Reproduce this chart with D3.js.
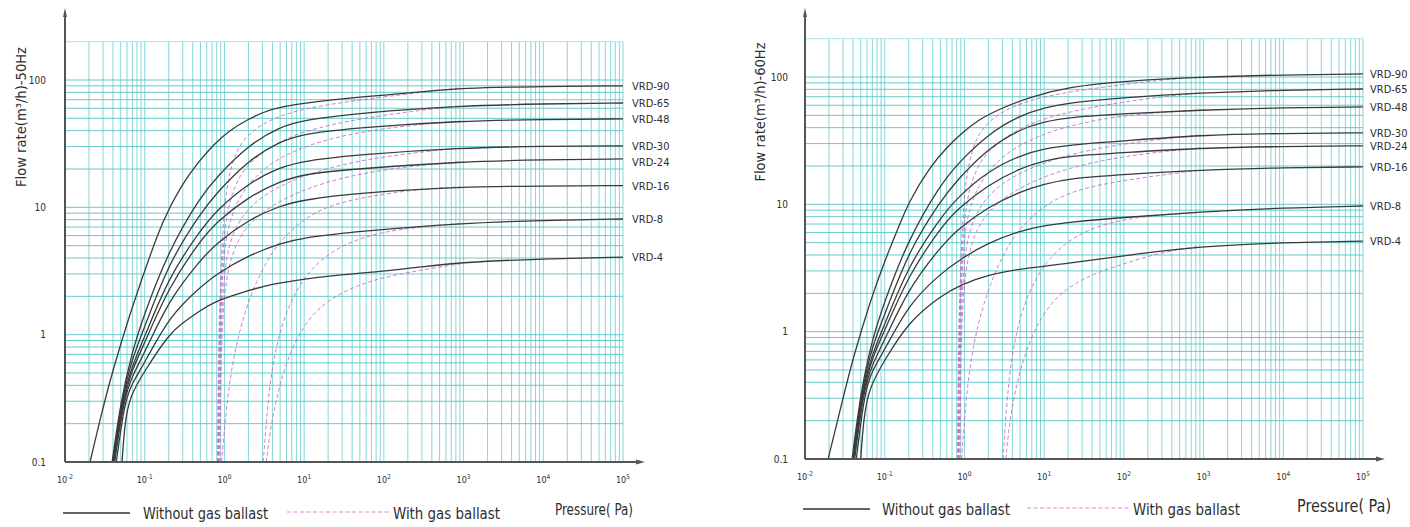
<!DOCTYPE html>
<html>
<head>
<meta charset="utf-8">
<title>VRD pumping speed curves</title>
<script src="https://cdn.jsdelivr.net/npm/d3@7"></script>
<style>
  body { margin: 0; background: #fff; }
  svg text { font-family: "Liberation Sans Narrow", "DejaVu Sans Condensed", "Roboto Condensed", "Liberation Sans", sans-serif; fill: #2e2e2e; }
</style>
</head>
<body>
<svg id="chart" width="1410" height="527"></svg>
<script>
// ---- data: [pressure Pa, flow m3/h] ----
const models = ["VRD-90", "VRD-65", "VRD-48", "VRD-30", "VRD-24", "VRD-16", "VRD-8", "VRD-4"];
const decades = [-2, -1, 0, 1, 2, 3, 4, 5];
const yTickValues = [0.1, 1, 10, 100];
const yTickLabels = ["0.1", "1", "10", "100"];
const legendLabels = ["Without gas ballast", "With gas ballast"];
const xTitle = "Pressure( Pa)";
const yTitles = ["Flow rate(m\u00B3/h)-50Hz", "Flow rate(m\u00B3/h)-60Hz"];

// 50Hz, without gas ballast
const solid50 = [
  [[0.0206,0.1],[0.03,0.27],[0.04,0.53],[0.0656,1.48],[0.107,3.6],[0.17,8.0],[0.28,14.5],[0.46,22.3],[0.72,30.9],[1.18,40.6],[1.93,48.6],[3.07,56],[5,61.5],[13,67.3],[51,73.6],[290,80.5],[916,86.7],[1e4,89],[1e5,90]],
  [[0.039,0.1],[0.05,0.3],[0.07,0.75],[0.1,1.48],[0.2,4.6],[0.5,12.1],[0.8,17.3],[2,30.9],[5,43],[10,48.6],[51,55.2],[916,62.7],[1e4,65],[1e5,66]],
  [[0.04,0.1],[0.051,0.3],[0.07,0.66],[0.1,1.15],[0.2,3.66],[0.5,9],[0.8,13],[2,23.5],[5,33],[10,38],[51,42.5],[916,47.7],[1e4,49],[1e5,49.5]],
  [[0.04,0.1],[0.052,0.3],[0.07,0.58],[0.1,0.96],[0.2,2.84],[0.5,6.6],[0.8,9.5],[2,15.5],[5,20.7],[10,23.2],[51,26],[916,29.3],[1e4,30.2],[1e5,30.4]],
  [[0.041,0.1],[0.053,0.3],[0.07,0.54],[0.1,0.86],[0.2,2.37],[0.5,5.5],[0.8,7.7],[2,12.1],[5,16],[10,18.3],[51,20.2],[916,22.8],[1e4,23.7],[1e5,24]],
  [[0.042,0.1],[0.054,0.3],[0.07,0.48],[0.1,0.72],[0.2,1.87],[0.5,3.86],[0.8,5.25],[2,8],[5,10.3],[10,11.5],[51,13],[916,14.5],[1e4,14.7],[1e5,14.8]],
  [[0.044,0.1],[0.056,0.3],[0.07,0.42],[0.1,0.6],[0.2,1.38],[0.5,2.37],[0.8,3.0],[2,4.2],[5,5.2],[10,5.8],[51,6.5],[916,7.5],[1e4,7.9],[1e5,8.1]],
  [[0.052,0.1],[0.056,0.2],[0.065,0.33],[0.1,0.52],[0.2,1.0],[0.28,1.2],[0.5,1.56],[0.8,1.85],[1.5,2.1],[3,2.4],[7,2.65],[28,2.95],[100,3.15],[290,3.4],[916,3.7],[1e4,3.95],[1e5,4.07]]
];

// 50Hz, with gas ballast
const gas50 = [
  [[0.82,0.1],[0.84,0.5],[0.86,1.2],[0.9,3],[0.95,6],[1.0,10],[1.1,16],[1.3,24],[1.6,32],[2.3,40.5],[4,50],[10,60],[50,70],[300,80],[916,86.7]],
  [[0.83,0.1],[0.85,0.5],[0.87,1.1],[0.91,2.6],[0.97,5],[1.05,8],[1.2,12],[1.5,17],[2,22],[4,31],[10,40],[50,50],[300,58],[916,62.7]],
  [[0.84,0.1],[0.86,0.5],[0.88,1.0],[0.92,2.2],[1.0,4.5],[1.1,7],[1.5,12],[2.5,18],[5,25],[15,33],[60,40],[300,45],[916,47.7]],
  [[0.86,0.1],[0.88,0.5],[0.9,0.9],[0.95,2],[1.03,3.5],[1.15,5.2],[1.6,8.5],[3,12.5],[8,17],[30,22],[150,26],[916,29.3]],
  [[0.88,0.1],[0.9,0.5],[0.93,1.0],[1.0,2.2],[1.2,4.2],[1.8,7],[3.5,10],[10,14],[40,18],[200,21],[916,22.8]],
  [[0.92,0.1],[1.05,0.25],[1.2,0.5],[1.5,1.0],[1.93,1.7],[2.5,2.6],[3.6,4.0],[5,5.5],[13,9.5],[50,12],[300,14],[916,14.5]],
  [[3.07,0.1],[3.35,0.21],[3.76,0.44],[4.6,0.91],[6.7,1.87],[12,3.34],[28.5,5.07],[90,6.4],[288,7.0],[916,7.5]],
  [[3.35,0.1],[3.76,0.18],[4.47,0.31],[5.8,0.58],[9,1.09],[16,1.71],[38,2.33],[90,2.79],[288,3.22],[916,3.6]]
];

// 60Hz, without gas ballast
const solid60 = [
  [[0.0195,0.1],[0.03,0.3],[0.04,0.62],[0.065,1.7],[0.1,3.6],[0.143,6.2],[0.2,10.5],[0.37,19.7],[0.6,28],[0.96,37],[1.5,46],[2.56,55],[6.65,70],[21,84],[100,93],[904,100],[1e4,104],[1e5,105.7]],
  [[0.039,0.1],[0.05,0.34],[0.07,0.88],[0.1,1.75],[0.2,5.4],[0.5,14.2],[0.8,20.5],[2,36],[5,50],[10,57.5],[21,63],[100,69],[904,75],[1e4,79],[1e5,80.5]],
  [[0.04,0.1],[0.051,0.34],[0.07,0.78],[0.1,1.36],[0.2,4.3],[0.5,10.6],[0.8,15.4],[2,27.7],[5,39],[10,44.5],[21,48.3],[100,51.5],[904,55],[1e4,57.5],[1e5,58.2]],
  [[0.04,0.1],[0.052,0.34],[0.07,0.68],[0.1,1.14],[0.2,3.35],[0.5,7.8],[0.8,11.2],[2,18.3],[5,24.3],[10,27.3],[21,29.3],[100,31.5],[904,35],[1e4,36.1],[1e5,36.4]],
  [[0.041,0.1],[0.053,0.34],[0.07,0.63],[0.1,1.02],[0.2,2.8],[0.5,6.5],[0.8,9.1],[2,14.3],[5,19.2],[10,22],[21,24],[100,25.5],[904,27.7],[1e4,28.5],[1e5,28.8]],
  [[0.042,0.1],[0.054,0.34],[0.07,0.56],[0.1,0.86],[0.2,2.2],[0.5,4.6],[0.8,6.3],[2,9.6],[5,12.6],[10,14.4],[21,16],[100,17.2],[904,18.6],[1e4,19.4],[1e5,19.7]],
  [[0.044,0.1],[0.056,0.34],[0.07,0.5],[0.1,0.72],[0.2,1.65],[0.5,2.85],[0.88,3.7],[2,5],[5,6.2],[10,6.8],[21,7.25],[100,7.9],[904,8.7],[1e4,9.4],[1e5,9.7]],
  [[0.05,0.1],[0.054,0.2],[0.063,0.36],[0.1,0.6],[0.2,1.2],[0.5,1.9],[0.88,2.33],[2,2.8],[5,3.12],[21,3.45],[100,3.95],[904,4.7],[1e4,5.0],[1e5,5.15]]
];

// 60Hz, with gas ballast
const gas60 = [
  [[0.82,0.1],[0.84,0.6],[0.86,1.4],[0.9,3.6],[0.95,7.2],[1.0,12],[1.1,19],[1.3,29],[1.6,38],[2.3,48],[4,59],[10,71],[50,83],[300,95],[904,100]],
  [[0.83,0.1],[0.85,0.6],[0.87,1.3],[0.91,3.1],[0.97,6],[1.05,9.6],[1.2,14.4],[1.5,20.4],[2,26.4],[4,37],[10,48],[50,60],[300,70],[904,75]],
  [[0.84,0.1],[0.86,0.6],[0.88,1.2],[0.92,2.6],[1.0,5.4],[1.1,8.4],[1.5,14.4],[2.5,21.6],[5,30],[15,39.5],[60,48],[300,53],[904,55]],
  [[0.86,0.1],[0.88,0.6],[0.9,1.1],[0.95,2.4],[1.03,4.2],[1.15,6.2],[1.6,10.2],[3,15],[8,20.4],[30,26.4],[150,31],[904,35]],
  [[0.88,0.1],[0.9,0.6],[0.93,1.2],[1.0,2.6],[1.2,5],[1.8,8.4],[3.5,12],[10,16.8],[40,21.6],[200,25.3],[904,27.7]],
  [[0.92,0.1],[1.05,0.3],[1.2,0.6],[1.5,1.2],[1.93,2.0],[2.5,3.1],[3.6,4.8],[5,6.6],[13,11.4],[50,14.5],[300,17],[904,18.6]],
  [[3.05,0.1],[3.35,0.25],[3.76,0.53],[4.6,1.1],[6.7,2.25],[12,4.0],[28.5,6.1],[90,7.6],[288,8.3],[904,8.7]],
  [[3.3,0.1],[3.76,0.22],[4.47,0.37],[5.8,0.7],[9,1.3],[16,2.05],[38,2.8],[90,3.35],[288,4.2],[904,4.7]]
];

// ---- layout ----
const panels = [
  { solid: solid50, gas: gas50, title: yTitles[0], x0: 65, x1: 623, yb: 462, yt: 80,
    arrowX: 645, arrowY: 8, titleX: 21, titleY: 117, titleLen: 140, labelX: 632, gap: 16,
    tickY: 483, yLabelX: 46, legY: 513, solidLeg: [63, 130], solidText: 143, solidLen: 125,
    gasLeg: [287, 390], gasText: 393, gasLen: 107, pressX: 555, pressLen: 78, pressSize: 15 },
  { solid: solid60, gas: gas60, title: yTitles[1], x0: 805, x1: 1363, yb: 459, yt: 77,
    arrowX: 1385, arrowY: 8, titleX: 760, titleY: 112, titleLen: 139, labelX: 1370, gap: 13,
    tickY: 480, yLabelX: 788, legY: 509, solidLeg: [803, 870], solidText: 882, solidLen: 128,
    gasLeg: [1027, 1130], gasText: 1133, gasLen: 107, pressX: 1297, pressLen: 94, pressSize: 17 }
];

const svg = d3.select("#chart");

panels.forEach(function (p) {
  const x = d3.scaleLog().domain([1e-2, 1e5]).range([p.x0, p.x1]);
  const y = d3.scaleLog().domain([0.1, 100]).range([p.yb, p.yt]);
  const g = svg.append("g");
  const gridTop = y(200);

  // log grid
  const xGrid = [];
  decades.forEach(function (k) {
    for (let m = 1; m <= 9; m++) {
      const v = m * Math.pow(10, k);
      if (v <= 1e5 * 1.0001) xGrid.push(v);
    }
  });
  const yGrid = [];
  [-1, 0, 1].forEach(function (k) {
    for (let m = 1; m <= 9; m++) yGrid.push(m * Math.pow(10, k));
  });
  yGrid.push(100, 200);

  g.selectAll(".vg").data(xGrid).join("line")
    .attr("x1", d => x(d)).attr("x2", d => x(d))
    .attr("y1", gridTop).attr("y2", p.yb)
    .attr("stroke", "#78d3d3").attr("stroke-width", 0.9);

  g.selectAll(".hg").data(yGrid).join("line")
    .attr("x1", p.x0).attr("x2", p.x1)
    .attr("y1", d => y(d)).attr("y2", d => y(d))
    .attr("stroke", d => d === 200 ? "#a6e3e3" : "#58c5c5").attr("stroke-width", 0.9);

  const line = d3.line()
    .x(d => x(d[0]))
    .y(d => y(d[1]))
    .curve(d3.curveBasis);

  // with gas ballast (dashed)
  g.selectAll(".gas").data(p.gas).join("path")
    .attr("d", line)
    .attr("fill", "none")
    .attr("stroke", "#c660c0")
    .attr("stroke-opacity", 0.8)
    .attr("stroke-width", 1)
    .attr("stroke-dasharray", "4,2.5");

  // without gas ballast (solid)
  g.selectAll(".solid").data(p.solid).join("path")
    .attr("d", line)
    .attr("fill", "none")
    .attr("stroke", "#3a3a3a")
    .attr("stroke-width", 1.3);

  // axes with arrows
  g.append("line").attr("x1", p.x0).attr("x2", p.arrowX - 4).attr("y1", p.yb).attr("y2", p.yb)
    .attr("stroke", "#555").attr("stroke-width", 2);
  g.append("path")
    .attr("d", `M${p.arrowX},${p.yb}L${p.arrowX - 9},${p.yb - 2.5}L${p.arrowX - 9},${p.yb + 2.5}Z`)
    .attr("fill", "#555");
  g.append("line").attr("x1", p.x0).attr("x2", p.x0).attr("y1", p.yb).attr("y2", p.arrowY + 4)
    .attr("stroke", "#555").attr("stroke-width", 2);
  g.append("path")
    .attr("d", `M${p.x0},${p.arrowY}L${p.x0 - 2},${p.arrowY + 9}L${p.x0 + 2},${p.arrowY + 9}Z`)
    .attr("fill", "#555");

  // x tick labels 10^k
  const xt = g.selectAll(".xt").data(decades).join("text")
    .attr("x", d => x(Math.pow(10, d)))
    .attr("y", p.tickY)
    .attr("text-anchor", "middle")
    .attr("font-size", 9);
  xt.append("tspan").text("10");
  xt.append("tspan").attr("dy", -4).attr("font-size", 6.5).text(d => String(d));

  // y tick labels
  g.selectAll(".yt").data(yTickValues).join("text")
    .attr("x", p.yLabelX)
    .attr("y", d => y(d))
    .attr("dy", "0.35em")
    .attr("text-anchor", "end")
    .attr("font-size", 10)
    .text((d, i) => yTickLabels[i]);

  // y title
  g.append("text")
    .attr("transform", `translate(${p.titleX},${p.titleY}) rotate(-90)`)
    .attr("text-anchor", "middle")
    .attr("dy", "0.35em")
    .attr("font-size", 14)
    .attr("textLength", p.titleLen)
    .attr("lengthAdjust", "spacingAndGlyphs")
    .text(p.title);

  // curve labels at right end, pushed apart when they crowd
  const ly = p.solid.map(s => y(s[s.length - 1][1]));
  for (let i = 1; i < ly.length; i++) {
    if (ly[i] - ly[i - 1] < p.gap) ly[i] = ly[i - 1] + p.gap;
  }
  g.selectAll(".lab").data(models).join("text")
    .attr("x", p.labelX)
    .attr("y", (d, i) => ly[i])
    .attr("dy", "0.35em")
    .attr("font-size", 11)
    .text(d => d);

  // legend
  g.append("line").attr("x1", p.solidLeg[0]).attr("x2", p.solidLeg[1])
    .attr("y1", p.legY).attr("y2", p.legY)
    .attr("stroke", "#333").attr("stroke-width", 1.3);
  g.append("text").attr("x", p.solidText).attr("y", p.legY).attr("dy", "0.35em")
    .attr("font-size", 16).attr("textLength", p.solidLen).attr("lengthAdjust", "spacingAndGlyphs")
    .text(legendLabels[0]);
  g.append("line").attr("x1", p.gasLeg[0]).attr("x2", p.gasLeg[1])
    .attr("y1", p.legY - 1).attr("y2", p.legY - 1)
    .attr("stroke", "#d68ccf").attr("stroke-width", 1).attr("stroke-dasharray", "4,2.5");
  g.append("text").attr("x", p.gasText).attr("y", p.legY).attr("dy", "0.35em")
    .attr("font-size", 16).attr("textLength", p.gasLen).attr("lengthAdjust", "spacingAndGlyphs")
    .text(legendLabels[1]);
  g.append("text").attr("x", p.pressX).attr("y", p.legY - 3).attr("dy", "0.35em")
    .attr("font-size", p.pressSize).attr("textLength", p.pressLen).attr("lengthAdjust", "spacingAndGlyphs")
    .text(xTitle);
});
</script>
</body>
</html>
